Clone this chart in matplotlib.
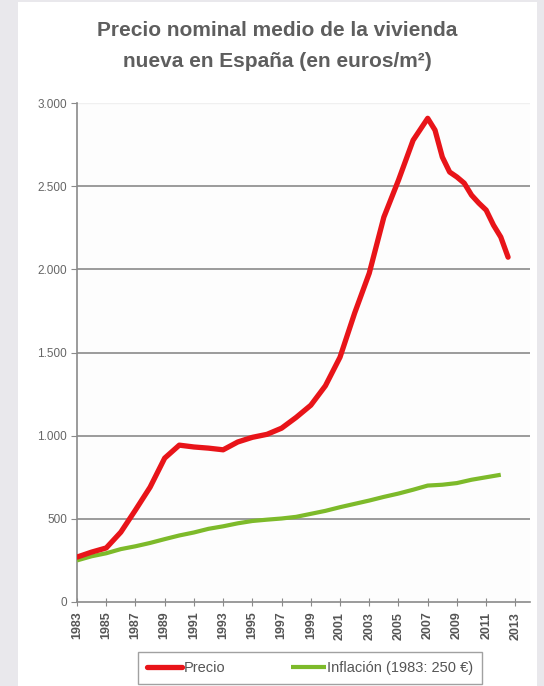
import matplotlib
matplotlib.use("Agg")
import matplotlib.pyplot as plt
from matplotlib.patches import Rectangle
from matplotlib.ticker import FuncFormatter

# Precio nominal medio (euros/m2)
precio_years = [1983, 1984, 1985, 1986, 1987, 1988, 1989, 1990, 1991, 1992,
                1993, 1994, 1995, 1996, 1997, 1998, 1999, 2000, 2001, 2002,
                2003, 2004, 2005, 2006, 2007, 2007.5, 2008, 2008.5, 2009,
                2009.5, 2010, 2010.5, 2011, 2011.5, 2012, 2012.5]
precio_values = [270, 300, 325, 420, 553, 690, 865, 943, 932, 925,
                 915, 962, 990, 1008, 1045, 1110, 1183, 1300, 1472, 1737,
                 1977, 2314, 2536, 2776, 2908, 2837, 2675, 2585, 2555,
                 2518, 2446, 2398, 2356, 2266, 2194, 2073]

# Inflación (1983: 250 €)
infl_years = list(range(1983, 2013))
infl_values = [250, 275, 293, 318, 335, 355, 378, 400, 418, 440,
               455, 473, 487, 495, 502, 512, 530, 548, 570, 590,
               610, 632, 652, 675, 700, 705, 715, 735, 750, 765]

xticks = list(range(1983, 2014, 2))
yticks = [0, 500, 1000, 1500, 2000, 2500, 3000]

title = "Precio nominal medio de la vivienda\nnueva en España (en euros/m²)"

RED = "#e81419"
GREEN = "#7dba2a"
TXT = "#555555"
sans = ["Liberation Sans", "DejaVu Sans"]

fig = plt.figure(figsize=(5.44, 6.86), dpi=100)
fig.patch.set_facecolor("#e9e8ec")
fig.add_artist(Rectangle((18 / 544, 0), 519 / 544, 684 / 686,
                         transform=fig.transFigure, facecolor="white",
                         edgecolor="none", zorder=0))

ax = fig.add_axes([77 / 544, 1 - 602 / 686, 453 / 544, 499 / 686])
ax.set_facecolor("#fdfdfd")

ax.plot(infl_years, infl_values, color=GREEN, linewidth=3.0,
        solid_capstyle="butt", label="Inflación (1983: 250 €)", zorder=3)
ax.plot(precio_years, precio_values, color=RED, linewidth=3.8,
        solid_capstyle="round", solid_joinstyle="round",
        label="Precio", zorder=4)

ax.set_xlim(1983, 2014)
ax.set_ylim(0, 3000)
ax.set_xticks(xticks)
ax.set_xticklabels([str(y) for y in xticks], rotation=90, fontsize=9,
                   fontweight="bold", color=TXT, family=sans)
ax.set_yticks(yticks)
ax.yaxis.set_major_formatter(FuncFormatter(lambda v, p: f"{int(v):,}".replace(",", ".")))
for lab in ax.get_yticklabels():
    lab.set_family(sans)
    lab.set_fontsize(8.5)
    lab.set_color("#666666")

for v in yticks[1:-1]:
    ax.axhline(v, color="#8a8a8a", linewidth=1.2, zorder=1)
ax.axhline(3000, color="#f0f0f0", linewidth=1.0, zorder=1)

for side in ("top", "right"):
    ax.spines[side].set_visible(False)
for side in ("left", "bottom"):
    ax.spines[side].set_color("#8a8a8a")
    ax.spines[side].set_linewidth(1.2)
ax.tick_params(axis="x", direction="inout", length=6, color="#8a8a8a", pad=4)
ax.tick_params(axis="y", direction="out", length=4, color="#8a8a8a", pad=3)

fig.text(277 / 544, 1 - 46 / 686, title, ha="center", va="center",
         fontsize=15, fontweight="bold", color="#5e5e5e", linespacing=1.75,
         family=sans)

handles, labels = ax.get_legend_handles_labels()
leg = fig.legend(handles[::-1], labels[::-1], loc="center",
                 bbox_to_anchor=(310 / 544, 1 - 668 / 686), ncol=2,
                 frameon=True, fancybox=False, handlelength=2.4,
                 handletextpad=0.1, columnspacing=4.5, borderpad=0.6,
                 prop={"family": sans, "size": 10.5})
leg.get_frame().set_edgecolor("#8a8a8a")
leg.get_frame().set_linewidth(1.0)
for t in leg.get_texts():
    t.set_color(TXT)

fig.savefig("out.png", dpi=100, facecolor=fig.get_facecolor())
